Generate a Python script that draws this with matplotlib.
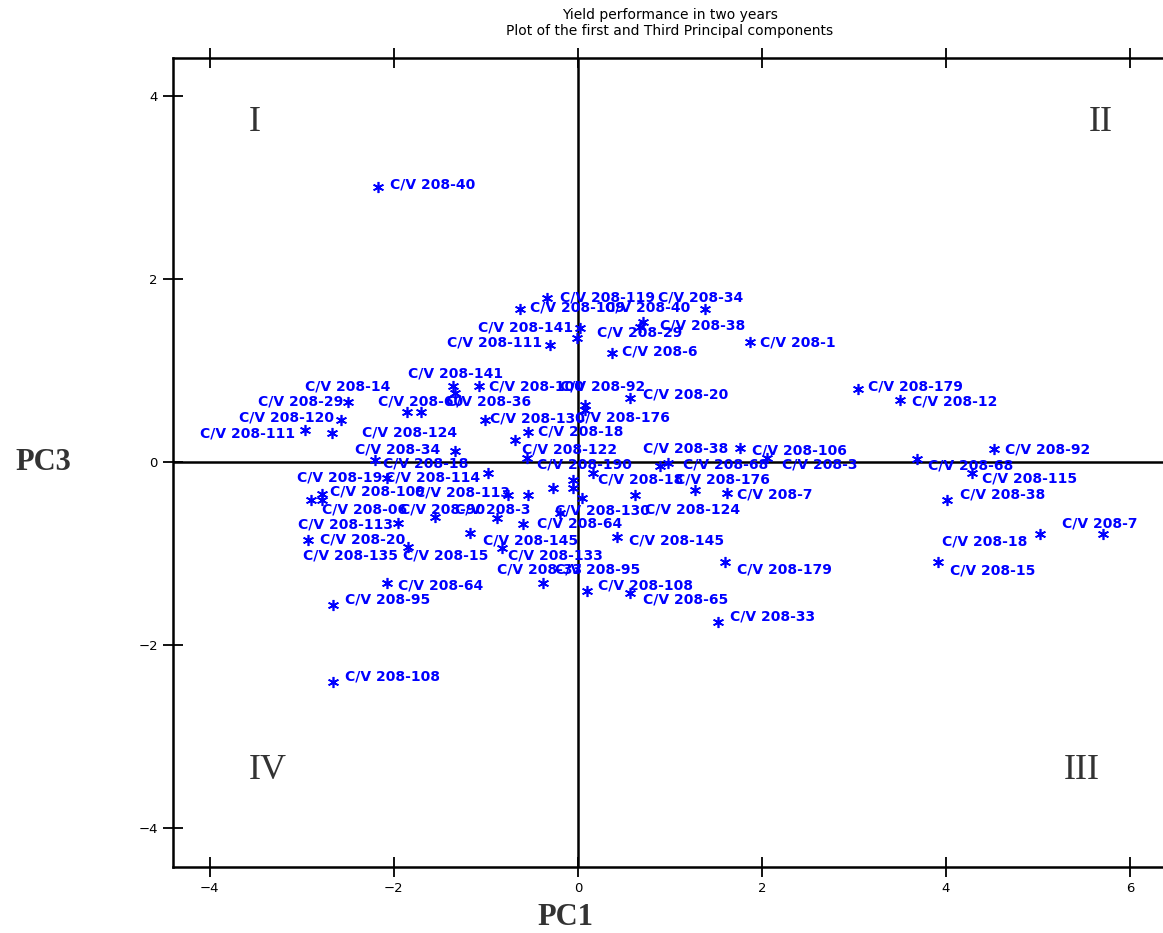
import matplotlib
matplotlib.use("Agg")
import matplotlib.pyplot as plt

# principal component scores (PC1, PC3) for each genotype
pc1 = [-2.17, -0.34, -0.63, 1.38, 0.71, 0.67, 0.02, -0.01, -0.30, 1.87,
       0.37, -1.36, -1.34, -1.07, 0.08, 0.08, 0.57, -2.50, -1.86, -1.70,
       -2.57, -2.97, -2.67, -1.01, -0.54, -0.68, -1.34, -2.21, -0.55, 1.76,
       2.05, 0.89, 0.98, 0.16, 1.27, -0.05, -0.05, -0.27, 0.04, 0.62,
       1.62, -0.20, -0.60, 0.43, -0.83, -0.38, 0.10, 0.57, 1.52, 1.60,
       -2.08, -2.90, -2.78, -0.98, -0.76, -0.54, -1.55, -0.88, -1.96, -1.17,
       -2.93, -1.85, -2.78, -2.08, -2.66, -2.66,
       3.04, 3.50, 4.52, 3.68, 4.28, 4.01, 5.71, 5.02, 3.91]
pc3 = [3.01, 1.80, 1.67, 1.67, 1.53, 1.48, 1.47, 1.36, 1.28, 1.31,
       1.19, 0.83, 0.76, 0.83, 0.62, 0.57, 0.70, 0.66, 0.55, 0.55,
       0.46, 0.35, 0.32, 0.46, 0.33, 0.24, 0.12, 0.02, 0.05, 0.15,
       0.05, -0.04, -0.01, -0.12, -0.31, -0.20, -0.28, -0.28, -0.39, -0.36,
       -0.34, -0.56, -0.68, -0.82, -0.94, -1.32, -1.41, -1.43, -1.75, -1.09,
       -0.17, -0.41, -0.35, -0.12, -0.36, -0.36, -0.60, -0.61, -0.67, -0.78,
       -0.85, -0.93, -0.41, -1.32, -1.56, -2.41,
       0.80, 0.68, 0.14, 0.03, -0.12, -0.41, -0.79, -0.79, -1.09]
names = ["C/V 208-40", "C/V 208-119", "C/V 208-109", "C/V 208-40", "C/V 208-34",
         "C/V 208-38", "C/V 208-141", "C/V 208-29", "C/V 208-111", "C/V 208-1",
         "C/V 208-6", "C/V 208-141", "C/V 208-14", "C/V 208-100", "C/V 208-92",
         "C/V 208-176", "C/V 208-20", "C/V 208-29", "C/V 208-60", "C/V 208-36",
         "C/V 208-120", "C/V 208-111", "C/V 208-124", "C/V 208-130", "C/V 208-18",
         "C/V 208-122", "C/V 208-34", "C/V 208-18", "C/V 208-190", "C/V 208-106",
         "C/V 208-3", "C/V 208-38", "C/V 208-68", "C/V 208-18", "C/V 208-176",
         "", "", "C/V 208-95", "", "C/V 208-124",
         "C/V 208-7", "C/V 208-130", "C/V 208-64", "C/V 208-145", "C/V 208-145",
         "C/V 208-33", "C/V 208-108", "C/V 208-65", "C/V 208-33", "C/V 208-179",
         "C/V 208-114", "C/V 208-19", "C/V 208-109", "C/V 208-133", "C/V 208-113",
         "", "C/V 208-90", "C/V 208-3", "C/V 208-113", "C/V 208-135",
         "C/V 208-20", "C/V 208-15", "C/V 208-06", "C/V 208-64", "C/V 208-95",
         "C/V 208-108",
         "C/V 208-179", "C/V 208-12", "C/V 208-92", "C/V 208-68", "C/V 208-115",
         "C/V 208-38", "C/V 208-7", "C/V 208-18", "C/V 208-15"]

# where each label sits relative to its point (pixels, left edge / middle)
label_offsets = [(12, 2), (13, 0), (10, 2), (-100, 2), (15, 25),
                 (20, 1), (-102, 0), (20, 5), (-103, 3), (10, 0),
                 (10, 2), (-45, 13), (-150, 6), (10, 0), (-25, 19),
                 (-10, -8), (13, 4), (-90, 0), (-29, 10), (25, 10),
                 (-102, 3), (-105, -3), (30, 0), (5, 2), (10, 0),
                 (7, -9), (-100, 2), (8, -3), (10, -7), (12, -2),
                 (15, -7), (-17, 17), (15, -2), (5, -6), (-20, 11),
                 (0, 0), (0, 0), (2, -82), (0, 0), (10, -15),
                 (10, -1), (-5, 3), (14, 1), (12, -3), (-19, 8),
                 (-46, 13), (11, 5), (13, -7), (12, 6), (12, -8),
                 (-2, 0), (-14, 22), (8, 3), (20, -82), (-93, 2),
                 (0, 0), (-35, 7), (-42, 8), (-100, -1), (-167, -22),
                 (12, 0), (-5, -8), (0, -10), (11, -3), (12, 5),
                 (12, 6),
                 (10, 2), (12, -2), (11, 0), (11, -6), (10, -5),
                 (13, 5), (-41, 11), (-98, -7), (12, -9)]

quadrants = ["I", "II", "III", "IV"]
quad_x = [-3.51, 5.68, 5.48, -3.37]
quad_y = [3.71, 3.71, -3.37, -3.37]

xticks = [-4, -2, 0, 2, 4, 6]
yticks = [-4, -2, 0, 2, 4]

blue = "#0000ff"

fig = plt.figure(figsize=(11.63, 9.33), dpi=100)
ax = fig.add_axes([0.1488, 0.0707, 0.8616, 0.8671])

ax.plot(pc1, pc3, linestyle="none", marker=(6, 2, 0), markersize=8,
        markeredgewidth=1.2, color=blue)
for x, y, name, off in zip(pc1, pc3, names, label_offsets):
    if name:
        ax.annotate(name, (x, y), xytext=off, textcoords="offset pixels",
                    ha="left", va="center", fontsize=10, fontweight="bold",
                    color=blue)

ax.axhline(0, color="black", lw=1.8, zorder=1)
ax.axvline(0, color="black", lw=1.8, zorder=1)

ax.set_xlim(-4.40, 6.49)
ax.set_ylim(-4.43, 4.42)
ax.set_xticks(xticks)
ax.set_yticks(yticks)
ax.tick_params(direction="inout", length=14, width=1.3, top=True,
               labeltop=False, labelsize=9.5, pad=4)
for side in ["left", "bottom", "top"]:
    ax.spines[side].set_linewidth(1.8)
ax.spines["right"].set_visible(False)

for q, qx, qy in zip(quadrants, quad_x, quad_y):
    ax.text(qx, qy, q, ha="center", va="center", fontsize=26,
            family="Liberation Serif", color="#333333")

fig.text(0.037, 0.5048, "PC3", ha="center", va="center", fontsize=22,
         family="Liberation Serif", fontweight="bold", color="#333333")
fig.text(0.4858, 0.0171, "PC1", ha="center", va="center", fontsize=22,
         family="Liberation Serif", fontweight="bold", color="#333333")

fig.text(0.576, 0.984, "Yield performance in two years", ha="center",
         va="center", fontsize=10)
fig.text(0.576, 0.967, "Plot of the first and Third Principal components",
         ha="center", va="center", fontsize=10)

fig.savefig("out.png", dpi=100)
